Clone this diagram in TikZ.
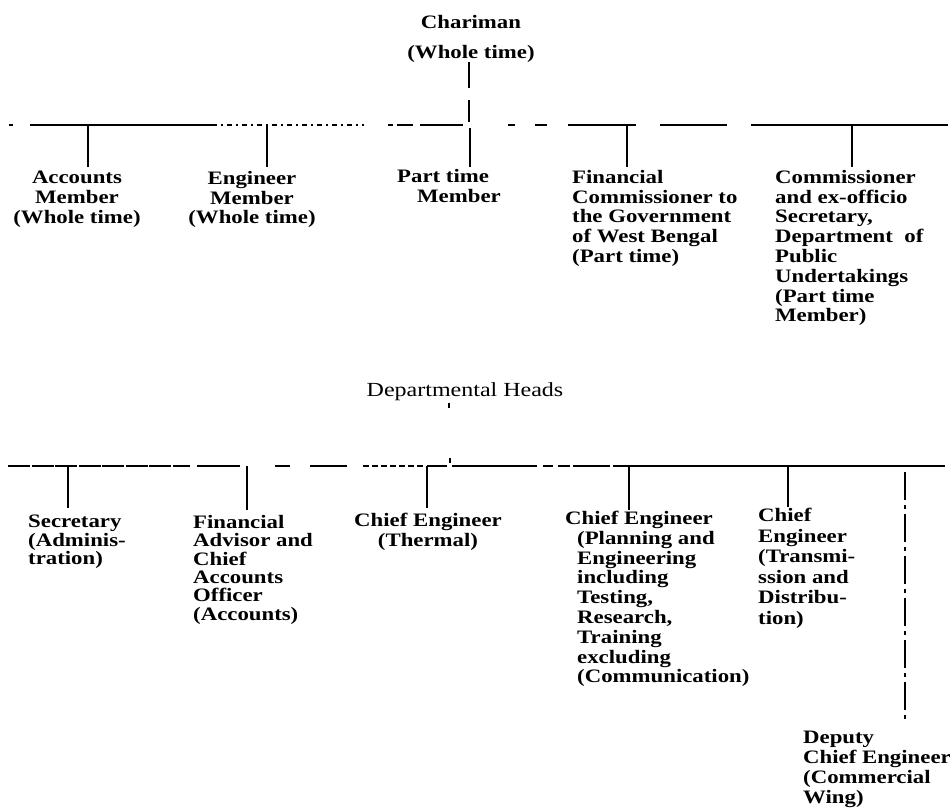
\documentclass[tikz,border=0pt]{standalone}
\usepackage{fontspec}
\newfontfamily\labfont[FakeStretch=1.2]{Liberation Serif}
\begin{document}
\begin{tikzpicture}[x=1pt,y=-1pt,
  lab/.style={font=\fontsize{19}{19.8}\labfont\bfseries, inner sep=0pt, align=left, anchor=north west},
  labt/.style={lab, font=\fontsize{19}{18.4}\labfont\bfseries},
  labc/.style={lab, align=center, anchor=north},
  head/.style={font=\fontsize{20}{20}\labfont, inner sep=0pt, anchor=center},
  bar/.style={line width=1.7pt},
  rule/.style={line width=1.4pt},
  thickrule/.style={line width=2.2pt},
  brk/.style={line width=1.2pt, dash pattern=on 5pt off 4pt on 2pt off 4pt},
  vdash/.style={line width=1.1pt, dash pattern=on 28pt off 5pt on 4pt off 5pt}]
\useasboundingbox (0,0) rectangle (950,810);

% ---- top ----
\node[labc] (chair) at (471,15) {Chariman\\[10.5pt](Whole time)};
\coordinate (cb1) at (469,62);
\coordinate (cb2) at (469,100);
\draw[bar] (cb1) -- ++(0,26);
\draw[bar] (cb2) -- ++(0,22);

% ---- first bus (y=125) ----
\draw[rule] (9,125) -- (13,125);
\draw[rule] (30,125) -- (212,125);
\draw[brk] (212,125) -- (364,125);
\draw[rule] (388,125) -- (393,125);
\draw[rule] (397,125) -- (413,125);
\draw[rule] (420,125) -- (463,125);
\draw[rule] (508,125) -- (515,125);
\draw[rule] (535,125) -- (547,125);
\draw[rule] (568,125) -- (636,125);
\draw[rule] (660,125) -- (727,125);
\draw[thickrule] (751,125) -- (948,125);

% ---- members ----
\node[labc] (acc) at (77,171) {Accounts\\Member\\(Whole time)};
\node[labc] (eng) at (252,171) {Engineer\\Member\\(Whole time)};
\node[lab] (part) at (397,169) {Part time\\\hspace*{20pt}Member};
\node[lab] (fin) at (572,170) {Financial\\Commissioner to\\the Government\\of West Bengal\\(Part time)};
\node[lab] (com) at (775,170) {Commissioner\\and ex-officio\\Secretary,\\Department\ \ of\\Public\\Undertakings\\(Part time\\Member)};

\coordinate (j1) at (88,125);
\coordinate (j2) at (267,125);
\coordinate (j3) at (470,128);
\coordinate (j4) at (627,125);
\coordinate (j5) at (852,125);
\draw[bar, shorten >=4pt] (j1) -- (j1 |- acc.north);
\draw[bar, shorten >=4pt] (j2) -- (j2 |- eng.north);
\draw[bar, shorten >=2pt] (j3) -- (j3 |- part.north);
\draw[bar, shorten >=3pt] (j4) -- (j4 |- fin.north);
\draw[bar, shorten >=3pt] (j5) -- (j5 |- com.north);

% ---- departmental heads ----
\node[head] (dh) at (465,392) {Departmental Heads};
\coordinate (t1) at (449,403);
\coordinate (t2) at (450,458);
\draw[line width=1.4pt] (t1) -- ++(0,5);
\draw[line width=1.4pt] (t2) -- ++(0,5);

% ---- second bus (y=466) ----
\draw[rule, dash pattern=on 22pt off 1.5pt] (8,466) -- (190,466);
\draw[rule] (197,466) -- (240,466);
\draw[rule] (275,466) -- (290,466);
\draw[rule] (310,466) -- (347,466);
\draw[rule, dash pattern=on 6pt off 3pt] (363,466) -- (423,466);
\draw[rule] (427,466) -- (447,466);
\draw[rule] (452,466) -- (537,466);
\draw[rule] (543,466) -- (553,466);
\draw[rule] (558,466) -- (570,466);
\draw[rule] (573,466) -- (610,466);
\draw[thickrule] (613,466) -- (945,466);

% ---- heads ----
\node[labt] (sec) at (28,515) {Secretary\\(Adminis-\\tration)};
\node[labt] (fa) at (193,515) {Financial\\Advisor and\\Chief\\Accounts\\Officer\\(Accounts)};
\node[labc] (th) at (428,513) {Chief Engineer\\(Thermal)};
\node[lab] (pl) at (565,511) {Chief Engineer\\\hspace*{12pt}(Planning and\\\hspace*{12pt}Engineering\\\hspace*{12pt}including\\\hspace*{12pt}Testing,\\\hspace*{12pt}Research,\\\hspace*{12pt}Training\\\hspace*{12pt}excluding\\\hspace*{12pt}(Communication)};
\node[lab, font=\fontsize{19}{20.5}\labfont\bfseries] (tr) at (758,508) {Chief\\Engineer\\(Transmi-\\ssion and\\Distribu-\\tion)};
\node[lab] (dep) at (803,731) {Deputy\\Chief Engineer\\(Commercial\\Wing)};

\coordinate (k1) at (68,466);
\coordinate (k2) at (247,466);
\coordinate (k3) at (427,466);
\coordinate (k4) at (629,466);
\coordinate (k5) at (788,466);
\coordinate (k6) at (905,472);
\draw[bar, shorten >=7pt] (k1) -- (k1 |- sec.north);
\draw[bar, shorten >=5pt] (k2) -- (k2 |- fa.north);
\draw[bar, shorten >=5pt] (k3) -- (k3 |- th.north);
\draw[bar, shorten >=1pt] (k4) -- (k4 |- pl.north);
\draw[bar, shorten >=1pt] (k5) -- (k5 |- tr.north);
\draw[vdash, shorten >=11pt] (k6) -- (k6 |- dep.north);
\end{tikzpicture}
\end{document}
